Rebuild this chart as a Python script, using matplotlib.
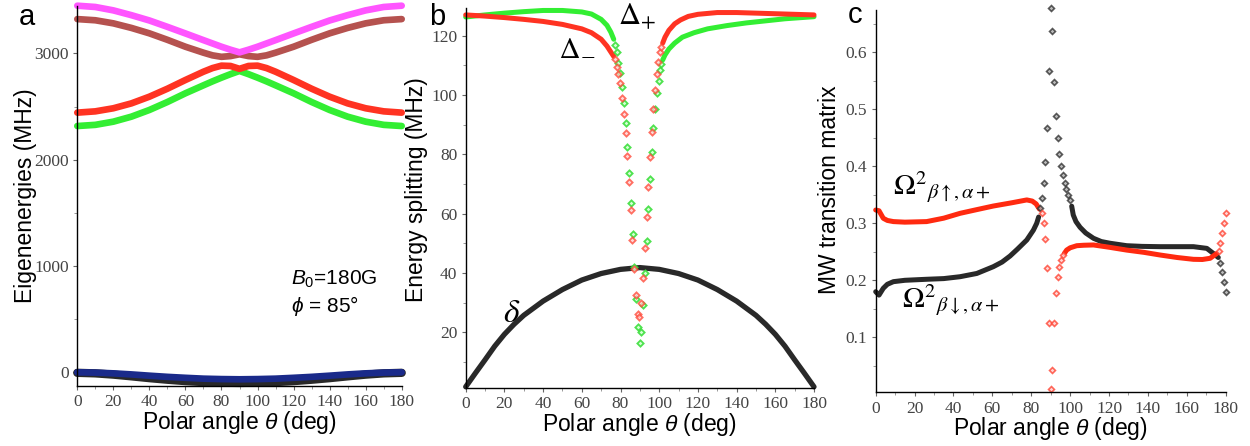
import numpy as np
import matplotlib
matplotlib.use("Agg")
import matplotlib.pyplot as plt
from matplotlib.ticker import MultipleLocator

plt.rcParams['font.family'] = ['Liberation Sans', 'DejaVu Sans']
plt.rcParams['mathtext.fontset'] = 'custom'
plt.rcParams['mathtext.rm'] = 'Liberation Sans'
plt.rcParams['mathtext.it'] = 'Liberation Sans:italic'

# ---- panel a: eigenenergies (MHz) vs polar angle ----
theta_a = [0, 10, 20, 30, 40, 50, 60, 70, 75, 80, 85, 90, 95, 100, 105, 110, 120, 130, 140, 150, 160, 170, 180]
e_magenta = [3449, 3437, 3405, 3360, 3310, 3250, 3188, 3125, 3094, 3063, 3035, 3010, 3035, 3063, 3094, 3125, 3188, 3250, 3310, 3360, 3405, 3437, 3449]
e_brown = [3323, 3312, 3283, 3240, 3189, 3128, 3063, 3007, 2982, 2968, 2975, 2992, 2975, 2968, 2982, 3007, 3063, 3128, 3189, 3240, 3283, 3312, 3323]
e_red = [2443, 2455, 2484, 2530, 2593, 2668, 2750, 2828, 2862, 2885, 2882, 2855, 2882, 2885, 2862, 2828, 2750, 2668, 2593, 2530, 2484, 2455, 2443]
e_green = [2317, 2328, 2358, 2405, 2468, 2543, 2625, 2700, 2737, 2772, 2805, 2835, 2805, 2772, 2737, 2700, 2625, 2543, 2468, 2405, 2358, 2328, 2317]
e_blue = [0, -3, -10, -20, -32, -43, -52, -60, -62, -64, -65, -66, -65, -64, -62, -60, -52, -43, -32, -20, -10, -3, 0]
e_black = [-5, -10, -22, -38, -55, -70, -83, -92, -95, -98, -99, -100, -99, -98, -95, -92, -83, -70, -55, -38, -22, -10, -5]

# ---- panel b: energy splitting (MHz) ----
dm_left_t = [0, 10, 20, 30, 40, 50, 60, 65, 70, 73, 75, 76.5]
dm_left_v = [127, 126.6, 126.1, 125.5, 124.8, 123.8, 122.3, 121, 118.8, 116.5, 114.5, 113]
dm_mid_t = [77.2, 78, 78.8, 79.7, 80.9, 81.8, 82.7, 83.5, 84.6, 85.4, 86.1, 87.1, 88, 88.9, 89.6, 90.8, 91.8, 92.5,
            93.5, 94.4, 95.2, 96.1, 97, 97.8, 98.7, 99.5, 100.4, 101.1]
dm_mid_v = [112, 109.5, 107, 104, 99.1, 93.6, 87.1, 79.4, 70.7, 61.1, 51.1, 41.2, 32.5, 26.2, 25, 29.8, 38.2, 48.3,
            58.8, 69.1, 79, 87.6, 95.2, 101.7, 107, 111.2, 114.5, 116.3]
dm_right_t = [101.8, 103, 105, 108, 111, 115, 120, 130, 140, 150, 160, 170, 180]
dm_right_v = [117.5, 119.5, 121.8, 124, 125.3, 126.5, 127.2, 127.8, 127.8, 127.6, 127.4, 127.2, 127]

dp_left_t = [0, 10, 20, 30, 40, 50, 60, 65, 70, 73, 75, 76.5]
dp_left_v = [126.3, 127, 127.6, 128.1, 128.5, 128.5, 128, 127.3, 125.5, 123.5, 121.2, 118.8]
dp_mid_t = [77.2, 78, 78.9, 79.9, 80.9, 81.8, 82.7, 83.5, 84.6, 85.4, 86.3, 87.1, 88, 89, 89.9, 90.8, 91.8, 92.7,
            93.5, 94.4, 95.2, 96.1, 97, 97.8, 99, 99.7, 100.4, 101.1]
dp_mid_v = [117, 114.5, 110.9, 107.3, 102.8, 97.2, 90.5, 82.6, 73.6, 63.7, 53, 41.9, 31.1, 21.7, 16.5, 20.1, 29.2, 39.9,
            50.9, 61.6, 71.6, 80.7, 88.8, 95.2, 100.8, 104.8, 108.4, 110.3]
dp_right_t = [101.8, 103, 105, 108, 112, 118, 125, 135, 145, 155, 165, 180]
dp_right_v = [111.8, 113.5, 115.5, 117.5, 119.5, 121, 122.3, 123.4, 124.3, 125, 125.7, 126.4]

delta_t = [0, 5, 10, 15, 20, 25, 30, 40, 50, 60, 70, 80, 90, 100, 110, 120, 130, 140, 150, 155, 160, 165, 170, 175, 180]
delta_v = [1.6, 6.2, 10.7, 15.3, 19.3, 22.7, 25.7, 30.5, 34.4, 37.6, 39.8, 41.2, 41.8, 41.2, 39.8, 37.6, 34.4, 30.5,
           25.7, 22.7, 19.3, 15.3, 10.7, 6.2, 1.6]

# ---- panel c: MW transition matrix ----
up_left_t = [0, 1.7, 3.9, 6, 9.1, 15, 26.2, 35, 43.4, 52, 60.5, 70, 77.7, 80.5, 82.5, 84.2]
up_left_v = [0.3233, 0.322, 0.3088, 0.305, 0.303, 0.302, 0.303, 0.309, 0.3175, 0.324, 0.3303, 0.336, 0.341, 0.339, 0.334, 0.325]
up_mid_t = [85.5, 86.4, 87.3, 88.2, 89.1, 90.0, 90.9, 91.8, 92.7, 93.6, 94.5, 95.4, 96.3]
up_mid_v = [0.3176, 0.301, 0.273, 0.222, 0.125, 0.009, 0.042, 0.125, 0.177, 0.2063, 0.2239, 0.2356, 0.244]
up_right_t = [97, 98.2, 100, 103.4, 107, 112, 120, 129.1, 138, 146.2, 155, 163.4, 168, 172, 175.4]
up_right_v = [0.247, 0.253, 0.257, 0.2607, 0.2615, 0.262, 0.258, 0.253, 0.249, 0.2444, 0.240, 0.2368, 0.2365, 0.2386, 0.247]
up_end_t = [176.4, 177.3, 178.2, 179.1, 180]
up_end_v = [0.252, 0.266, 0.2825, 0.3, 0.3186]

dn_left_t = [0, 1.7, 3.9, 6, 9.1, 15, 26.2, 35, 43.4, 52, 60.5, 65, 69.1, 73, 77.7, 81.1, 82.8, 83.8]
dn_left_v = [0.18, 0.174, 0.186, 0.193, 0.1976, 0.20, 0.2018, 0.203, 0.2063, 0.212, 0.2239, 0.232, 0.2426, 0.255, 0.2707, 0.288, 0.300, 0.311]
dn_mid_t = [84.6, 85.5, 86.4, 87.3, 88.2, 89.1, 90.0, 90.9, 91.8, 92.7, 93.6, 94.5, 95.4, 96.3, 97.2, 98.1, 99.0, 99.9]
dn_mid_v = [0.3263, 0.344, 0.370, 0.408, 0.468, 0.568, 0.678, 0.637, 0.548, 0.488, 0.449, 0.421, 0.4005, 0.385, 0.371, 0.360, 0.3497, 0.341]
dn_right_t = [100.8, 101.6, 103, 105.1, 108, 112, 116, 120.5, 129.1, 137, 146.2, 155, 163.4, 170.3, 173.7, 176.2]
dn_right_v = [0.330, 0.3146, 0.303, 0.293, 0.283, 0.2737, 0.268, 0.265, 0.2607, 0.2595, 0.259, 0.259, 0.259, 0.256, 0.247, 0.240]
dn_end_t = [177.3, 178.2, 179.1, 180]
dn_end_v = [0.2298, 0.215, 0.1976, 0.18]

W, H = 1250, 446
fig = plt.figure(figsize=(W / 100, H / 100), dpi=100)


def px_axes(x0, x1, ytop, ybot):
    return fig.add_axes([x0 / W, 1 - ybot / H, (x1 - x0) / W, (ybot - ytop) / H])


def style(ax, ymaj, ymin):
    for s in ('top', 'right'):
        ax.spines[s].set_visible(False)
    for s in ('left', 'bottom'):
        ax.spines[s].set_linewidth(1.0)
    ax.set_xlim(0, 180)
    ax.xaxis.set_major_locator(MultipleLocator(20))
    ax.xaxis.set_minor_locator(MultipleLocator(10))
    ax.yaxis.set_major_locator(MultipleLocator(ymaj))
    ax.yaxis.set_minor_locator(MultipleLocator(ymin))
    ax.tick_params(which='major', direction='out', length=3, width=0.8, color='#666', pad=3,
                   labelsize=12.5, labelcolor='#444', labelfontfamily='Liberation Serif')
    ax.tick_params(which='minor', direction='out', length=2, width=0.6, color='#888')
    ax.set_xlabel(r'Polar angle $\theta$ (deg)', fontsize=16.5)
    ax.xaxis.set_label_coords(0.5, -0.06)


def dense(ax, t, v, color, lw, alpha=1.0):
    ax.plot(t, v, color=color, lw=lw, alpha=alpha, clip_on=False, solid_capstyle='round')


# panel a
ax = px_axes(77.3, 401.7, 5.6, 386)
ax.set_ylim(-129, 3450)
dense(ax, theta_a, e_black, '#111111', 6, 0.9)
dense(ax, theta_a, e_blue, '#1a2a8a', 4.8)
dense(ax, theta_a, e_green, '#33ee33', 4.8)
dense(ax, theta_a, e_red, '#ff3322', 4.8)
dense(ax, theta_a, e_brown, '#b5524f', 4.8)
dense(ax, theta_a, e_magenta, '#ff55ff', 4.8)
style(ax, 1000, 500)
ax.set_ylabel('Eigenenergies (MHz)', fontsize=16.5)
ax.yaxis.set_label_coords(-0.125, 0.5)
ax.text(0.66, 0.265, r'$\mathit{B}_0$=180G', transform=ax.transAxes, fontsize=15)
ax.text(0.66, 0.195, r'$\phi$ = 85°', transform=ax.transAxes, fontsize=15)
fig.text(27 / W, 1 - 17 / H, 'a', fontsize=21, ha='center', va='center')

# panel b
ax = px_axes(465.7, 814, 7.5, 387.7)
ax.set_ylim(1.3, 129.5)
lw = 3.6
dense(ax, delta_t, delta_v, '#111111', 3.8, 0.9)
dense(ax, dp_left_t, dp_left_v, '#33ee33', lw)
dense(ax, dp_right_t, dp_right_v, '#33ee33', lw)
dense(ax, dm_left_t, dm_left_v, '#ff3322', lw)
dense(ax, dm_right_t, dm_right_v, '#ff3322', lw)
ax.plot(dp_mid_t, dp_mid_v, 'D', color='#33dd33', ms=3.2, mfc='#ccffcc', mew=1.3, alpha=0.85, ls='none')
ax.plot(dm_mid_t, dm_mid_v, 'D', color='#ff4433', ms=3.2, mfc='#ffcccc', mew=1.3, alpha=0.75, ls='none')
style(ax, 20, 10)
ax.set_yticks([20, 40, 60, 80, 100, 120])
ax.set_ylabel('Energy splitting (MHz)', fontsize=16.5)
ax.yaxis.set_label_coords(-0.107, 0.52)
ax.text(78.5, 123.6, r'$\Delta_{+}$', fontsize=22, math_fontfamily='stix')
ax.text(47.7, 113.5, r'$\Delta_{-}$', fontsize=22, math_fontfamily='stix')
ax.text(19.2, 23.5, r'$\delta$', fontsize=24, math_fontfamily='stix')
fig.text(437 / W, 1 - 17 / H, 'b', fontsize=21, ha='center', va='center')

# panel c
ax = px_axes(875.7, 1225.7, 9.55, 392.3)
ax.set_ylim(0.0035, 0.675)
dense(ax, dn_left_t, dn_left_v, '#111111', lw, 0.9)
dense(ax, dn_right_t, dn_right_v, '#111111', lw, 0.9)
dense(ax, up_left_t, up_left_v, '#ff2a10', lw)
dense(ax, up_right_t, up_right_v, '#ff2a10', lw)
ax.plot(dn_mid_t + dn_end_t, dn_mid_v + dn_end_v, 'D', color='#333333', ms=3.0, mfc='#aaaaaa', mew=1.2,
        alpha=0.8, ls='none', clip_on=False)
ax.plot(up_mid_t + up_end_t, up_mid_v + up_end_v, 'D', color='#ff4433', ms=3.0, mfc='#ffcccc', mew=1.2,
        alpha=0.8, ls='none', clip_on=False)
style(ax, 0.1, 0.05)
ax.set_yticks([0.1, 0.2, 0.3, 0.4, 0.5, 0.6])
ax.set_ylabel('MW transition matrix', fontsize=16.5)
ax.yaxis.set_label_coords(-0.099, 0.53)
ax.text(8.9, 0.35, r'$\Omega^2{}_{\beta\uparrow,\alpha+}$', fontsize=21, math_fontfamily='stix')
ax.text(13.4, 0.151, r'$\Omega^2{}_{\beta\downarrow,\alpha+}$', fontsize=21, math_fontfamily='stix')
fig.text(855 / W, 1 - 15 / H, 'c', fontsize=21, ha='center', va='center')

fig.savefig('out.png', dpi=100)
